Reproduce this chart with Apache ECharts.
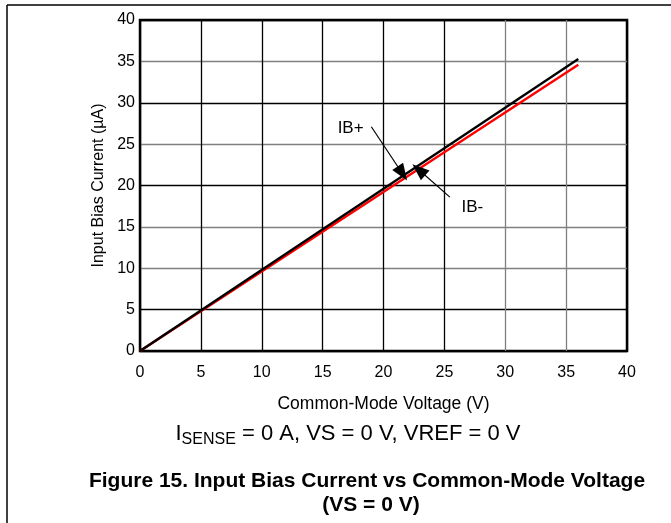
<!DOCTYPE html>
<html>
<head>
<meta charset="utf-8">
<style>html,body{margin:0;padding:0;background:#fff;}#c{width:671px;height:523px;}</style>
<script src="https://cdn.jsdelivr.net/npm/echarts@6/dist/echarts.min.js"></script>
</head>
<body>
<div id="c"></div>
<script>
// Data
var voltage = [0, 36];
var ibPlus = [0, 35.3];
var ibMinus = [0, 34.6];
var xTicks = [0, 5, 10, 15, 20, 25, 30, 35, 40];
var yTicks = [0, 5, 10, 15, 20, 25, 30, 35, 40];
var ibPlusArrow = [[19.0, 27.1], [21.55, 21.45]];
var ibMinusArrow = [[25.45, 18.6], [22.9, 21.9]];
var ibPlusLabel = [17.3, 26.9];
var ibMinusLabel = [27.3, 17.4];

var chart = echarts.init(document.getElementById('c'), null, {renderer: 'canvas'});
var FONT = 'Liberation Sans, Arial, sans-serif';
var G = '#808080', K = '#000';

function pairs(xs, ys) { return xs.map(function (x, i) { return [x, ys[i]]; }); }

chart.setOption({
  animation: false,
  backgroundColor: '#fff',
  grid: {left: 140, top: 20, right: 44, bottom: 172, show: true, borderColor: '#000', borderWidth: 2.5, backgroundColor: 'transparent'},
  xAxis: {
    type: 'value', min: xTicks[0], max: xTicks[xTicks.length - 1], interval: 5,
    name: 'Common-Mode Voltage (V)', nameLocation: 'middle', nameGap: 44,
    nameTextStyle: {fontFamily: FONT, fontSize: 17.5, color: '#000'},
    axisLine: {show: false}, axisTick: {show: false},
    axisLabel: {fontFamily: FONT, fontSize: 16, color: '#000', margin: 14},
    splitLine: {show: true, lineStyle: {color: [K, K, K, K, K, K, G, G, K], width: 1.3}}
  },
  yAxis: {
    type: 'value', min: yTicks[0], max: yTicks[yTicks.length - 1], interval: 5,
    name: 'Input Bias Current (\u00b5A)', nameLocation: 'middle', nameGap: 33,
    nameTextStyle: {fontFamily: FONT, fontSize: 16, color: '#000'},
    axisLine: {show: false}, axisTick: {show: false},
    axisLabel: {fontFamily: FONT, fontSize: 16, color: '#000', margin: 5},
    splitLine: {show: true, lineStyle: {color: [K, K, G, G, K, G, K, G, K], width: 1.3}}
  },
  series: [
    {
      name: 'IB+', type: 'line', data: pairs(voltage, ibPlus), symbol: 'none',
      lineStyle: {color: '#000', width: 2.4}, z: 3,
      markLine: {
        silent: true, symbol: ['none', 'triangle'], symbolSize: [13, 17],
        lineStyle: {color: '#000', width: 1.2, type: 'solid'}, label: {show: false},
        data: [
          [{coord: ibPlusArrow[0]}, {coord: ibPlusArrow[1]}],
          [{coord: ibMinusArrow[0]}, {coord: ibMinusArrow[1]}]
        ]
      },
      markPoint: {
        silent: true, symbol: 'circle', symbolSize: 1, itemStyle: {color: 'transparent'},
        label: {show: true, position: 'inside', fontFamily: FONT, fontSize: 17, color: '#000', formatter: '{b}'},
        data: [
          {name: 'IB+', coord: ibPlusLabel},
          {name: 'IB-', coord: ibMinusLabel}
        ]
      }
    },
    {
      name: 'IB-', type: 'line', data: pairs(voltage, ibMinus), symbol: 'none',
      lineStyle: {color: '#ff0000', width: 2.4}, z: 2
    }
  ],
  graphic: [
    {type: 'line', shape: {x1: 7, y1: 5, x2: 671, y2: 5}, style: {stroke: '#000', lineWidth: 1.5}},
    {type: 'line', shape: {x1: 7, y1: 5, x2: 7, y2: 523}, style: {stroke: '#000', lineWidth: 1.5}},
    {
      type: 'text',
      style: {
        x: 348, y: 434, textAlign: 'center', textVerticalAlign: 'middle',
        text: '{m|I}{s|SENSE}{m| = 0 A, VS = 0 V, VREF = 0 V}',
        rich: {
          m: {fontFamily: FONT, fontSize: 22, fill: '#000', color: '#000'},
          s: {fontFamily: FONT, fontSize: 16, fill: '#000', color: '#000', padding: [11, 0, 0, 0]}
        }
      }
    },
    {
      type: 'text',
      style: {x: 367, y: 481, textAlign: 'center', textVerticalAlign: 'middle',
        text: 'Figure 15. Input Bias Current vs Common-Mode Voltage', font: 'bold 21px ' + FONT, fill: '#000'}
    },
    {
      type: 'text',
      style: {x: 371, y: 505, textAlign: 'center', textVerticalAlign: 'middle',
        text: '(VS = 0 V)', font: 'bold 21px ' + FONT, fill: '#000'}
    }
  ]
});
</script>
</body>
</html>
